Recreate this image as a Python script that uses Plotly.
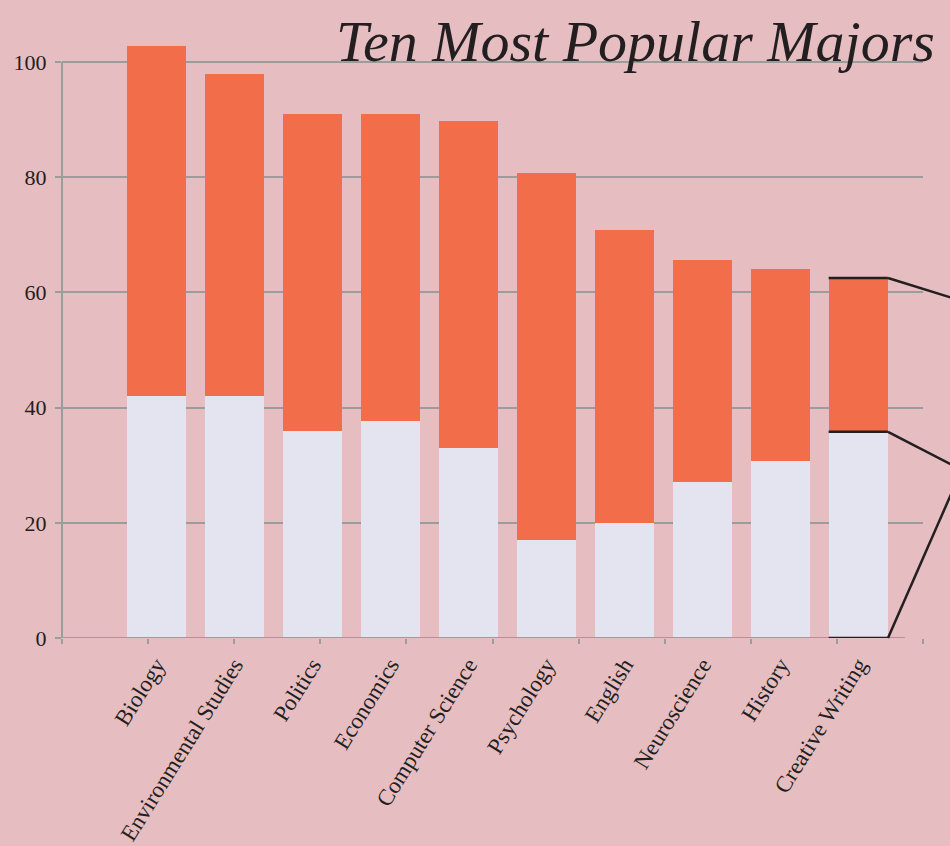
import plotly.graph_objects as go

majors = ["Biology", "Environmental Studies", "Politics", "Economics", "Computer Science",
          "Psychology", "English", "Neuroscience", "History", "Creative Writing"]
lower_vals = [42, 42, 36, 37.7, 33, 17, 20, 27, 30.7, 35.8]
total_vals = [102.7, 98, 91, 91, 89.8, 80.8, 70.8, 65.7, 64, 62.5]
upper_vals = [t - l for t, l in zip(total_vals, lower_vals)]
y_ticks = [0, 20, 40, 60, 80, 100]

BG = "#E6BDC1"
ORANGE = "#F26E4B"
LAV = "#E4E4F1"
GRID = "#9C9C9C"
INK = "#231F20"
SERIF = "Liberation Serif, Times New Roman, serif"

YMAX = 104

fig = go.Figure()
fig.add_trace(go.Bar(x=majors, y=lower_vals, marker=dict(color=LAV, line=dict(width=0)),
                     width=0.76, hoverinfo="x+y"))
fig.add_trace(go.Bar(x=majors, y=upper_vals, marker=dict(color=ORANGE, line=dict(width=0)),
                     width=0.76, hoverinfo="x+y"))
# invisible trace to carry the evenly spaced tick marks
fig.add_trace(go.Scatter(x=[0, 10], y=[0, 0], xaxis="x2", yaxis="y", mode="markers",
                         marker=dict(opacity=0), hoverinfo="skip", showlegend=False))

fig.update_layout(
    width=950, height=846,
    paper_bgcolor=BG, plot_bgcolor=BG,
    barmode="stack", showlegend=False,
    margin=dict(l=62, r=27, t=39, b=208, autoexpand=False),
    font=dict(family=SERIF, color=INK, size=22),
    xaxis=dict(type="category", range=[-1.21, 9.83], showgrid=False, zeroline=False,
               showline=False, ticks="", tickangle=-58, ticklabelstandoff=8,
               automargin=False,
               tickfont=dict(family=SERIF, size=23, color=INK)),
    xaxis2=dict(overlaying="x", anchor="y", side="bottom", range=[0, 10],
                tickvals=list(range(11)), showticklabels=False, ticks="outside",
                ticklen=5, tickwidth=2, tickcolor=GRID, showgrid=False, zeroline=False,
                showline=False, automargin=False),
    yaxis=dict(range=[0, YMAX], tickvals=y_ticks, showgrid=True, gridcolor=GRID,
               gridwidth=2, zeroline=False, showline=False, ticks="outside", ticklen=6,
               tickwidth=2, tickcolor=GRID, ticklabelstandoff=4, automargin=False,
               tickfont=dict(family=SERIF, size=22, color=INK)),
)

shapes = []
# y axis line (0 to 100)
shapes.append(dict(type="line", xref="paper", yref="y", x0=0, x1=0, y0=0, y1=y_ticks[-1],
                   line=dict(color=GRID, width=2), layer="above"))
# x axis line
shapes.append(dict(type="line", xref="paper", yref="y", x0=0, x1=0.979, y0=0, y1=0,
                   line=dict(color=GRID, width=2), layer="above"))

# callout lines on the last bar
i = len(majors) - 1
cw_lower = lower_vals[i]
cw_total = total_vals[i]
half = 0.38
for val in (0, cw_lower, cw_total):
    shapes.append(dict(type="line", xref="x", yref="y", x0=i - half, x1=i + half,
                       y0=val, y1=val, line=dict(color=INK, width=2.5), layer="above"))

def ypaper(v):
    return v / YMAX

x_bar_right = (888 - 62) / 861
x_edge = 1.06
shapes.append(dict(type="line", xref="paper", yref="paper", x0=x_bar_right, y0=ypaper(cw_total),
                   x1=x_edge, y1=ypaper(cw_total) - 0.045, line=dict(color=INK, width=2.5), layer="above"))
shapes.append(dict(type="line", xref="paper", yref="paper", x0=x_bar_right, y0=ypaper(cw_lower),
                   x1=x_edge, y1=ypaper(cw_lower) - 0.075, line=dict(color=INK, width=2.5), layer="above"))
shapes.append(dict(type="line", xref="paper", yref="paper", x0=x_bar_right, y0=0,
                   x1=x_edge, y1=0.33, line=dict(color=INK, width=2.5), layer="above"))
fig.update_layout(shapes=shapes)

fig.add_annotation(text="<i>Ten Most Popular Majors</i>", xref="paper", yref="paper",
                   x=1.016, y=0.995, xanchor="right", yanchor="middle", showarrow=False,
                   font=dict(family=SERIF, size=58, color=INK))

fig.write_html("out.html", config={"displayModeBar": False},
               post_script="document.body.style.margin='0';document.body.style.background='" + BG + "';")
